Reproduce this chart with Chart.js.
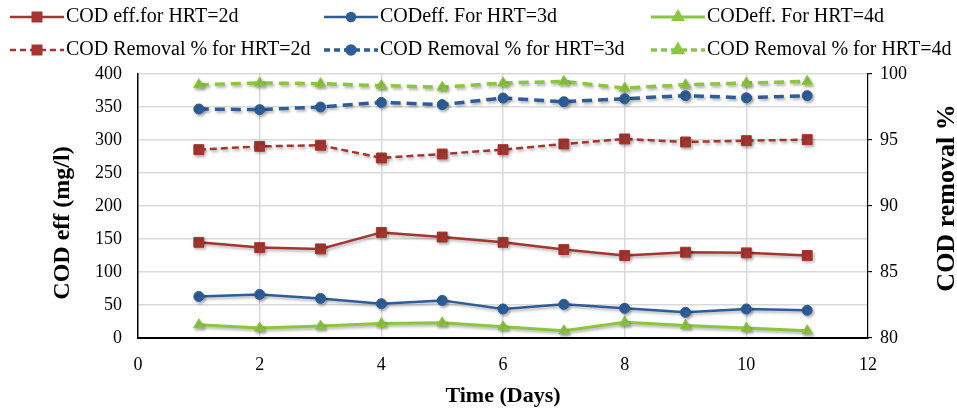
<!DOCTYPE html>
<html>
<head>
<meta charset="utf-8">
<script src="https://cdn.jsdelivr.net/npm/chart.js@4.4.1/dist/chart.umd.min.js"></script>
<style>
  body { margin: 0; background: #fff; }
</style>
</head>
<body>
<canvas id="myChart" width="957" height="412"></canvas>
<script>
// time axis (days)
var days = [1, 2, 3, 4, 5, 6, 7, 8, 9, 10, 11];

// COD effluent, mg/l (left axis)
var effHRT2 = [145, 137, 135, 160, 153, 145, 134, 125, 130, 129, 125];
var effHRT3 = [63, 66, 60, 52, 57, 44, 51, 45, 39, 44, 42];
var effHRT4 = [20, 15, 18, 22, 23, 17, 11, 24, 19, 15, 11];

// COD removal, % (right axis)
var remHRT2 = [94.27, 94.52, 94.6, 93.64, 93.94, 94.27, 94.7, 95.08, 94.85, 94.95, 95.03];
var remHRT3 = [97.35, 97.3, 97.5, 97.85, 97.68, 98.18, 97.9, 98.13, 98.36, 98.2, 98.36];
var remHRT4 = [99.19, 99.32, 99.27, 99.12, 99.0, 99.32, 99.44, 98.94, 99.19, 99.32, 99.44];

var seriesNames = [
    'COD eff.for HRT=2d', 'CODeff. For HRT=3d', 'CODeff. For HRT=4d',
    'COD Removal % for HRT=2d', 'COD Removal % for HRT=3d', 'COD Removal % for HRT=4d'
];

var RED = '#a5352f', BLUE = '#2e5d99', GREEN = '#8cc63f';
var SERIF = '"Liberation Serif", "Times New Roman", serif';

function pts(arr) {
    return days.map(function (d, i) { return {x: d, y: arr[i]}; });
}

function series(i, arr, color, style, radius, axis, dash, width) {
    return {
        label: seriesNames[i],
        data: pts(arr),
        yAxisID: axis,
        borderColor: color,
        backgroundColor: color,
        borderWidth: width,
        borderDash: dash,
        pointStyle: style,
        pointRadius: radius,
        pointBorderWidth: 1,
        pointBackgroundColor: color,
        pointBorderColor: color,
        tension: 0,
        fill: false
    };
}

var datasets = [
    series(0, effHRT2, RED, 'rect', 7, 'y', [], 2.5),
    series(1, effHRT3, BLUE, 'circle', 5, 'y', [], 2.5),
    series(2, effHRT4, GREEN, 'triangle', 6, 'y', [], 3),
    series(3, remHRT2, RED, 'rect', 7, 'y1', [7, 4], 2.5),
    series(4, remHRT3, BLUE, 'circle', 5, 'y1', [10, 6], 3.5),
    series(5, remHRT4, GREEN, 'triangle', 6, 'y1', [10, 6], 3.5)
];

// soft shadow like the spreadsheet original
var shadowPlugin = {
    id: 'shadow',
    beforeDatasetsDraw: function (chart) {
        var c = chart.ctx;
        c.save();
        c.shadowColor = 'rgba(0,0,0,0.3)';
        c.shadowBlur = 3;
        c.shadowOffsetX = 1.5;
        c.shadowOffsetY = 2;
    },
    afterDatasetsDraw: function (chart) {
        chart.ctx.restore();
    }
};

function vTitle(c, text, x, y, size) {
    c.save();
    c.translate(x, y);
    c.rotate(-Math.PI / 2);
    c.font = 'bold ' + size + 'px ' + SERIF;
    c.fillStyle = '#000';
    c.textAlign = 'center';
    c.textBaseline = 'middle';
    c.fillText(text, 0, 0);
    c.restore();
}

// two-row legend in fixed columns + vertical axis titles (read bottom to top)
var legendCols = [10, 324, 651];
var legendRows = [17, 50];
var extrasPlugin = {
    id: 'extras',
    afterDraw: function (chart) {
        var c = chart.ctx;
        c.save();
        chart.data.datasets.forEach(function (ds, i) {
            var x0 = legendCols[i % 3], y = legendRows[Math.floor(i / 3)];
            var len = 54;
            c.strokeStyle = ds.borderColor;
            c.lineWidth = ds.borderWidth;
            c.setLineDash(ds.borderDash.length ? [6, 4] : []);
            c.beginPath();
            c.moveTo(x0, y);
            c.lineTo(x0 + len, y);
            c.stroke();
            c.setLineDash([]);
            c.fillStyle = ds.borderColor;
            Chart.helpers.drawPoint(c, {
                pointStyle: ds.pointStyle,
                radius: ds.pointRadius - 1,
                rotation: 0,
                borderWidth: 1
            }, x0 + len / 2, y);
            c.fillStyle = '#000';
            c.font = '20px ' + SERIF;
            c.textBaseline = 'middle';
            c.textAlign = 'left';
            c.fillText(ds.label, x0 + len + 2, y);
        });
        c.restore();
        vTitle(c, 'COD eff (mg/l)', 63, 223, 24);
        vTitle(c, 'COD removal %', 947, 198, 26);
    }
};

new Chart('myChart', {
    type: 'line',
    data: { datasets: datasets },
    plugins: [shadowPlugin, extrasPlugin],
    options: {
        responsive: false,
        animation: false,
        layout: { padding: { top: 74, left: 0, right: 0, bottom: 0 } },
        plugins: {
            legend: { display: false },
            tooltip: { enabled: false }
        },
        scales: {
            x: {
                type: 'linear',
                min: 0,
                max: 12,
                ticks: {
                    stepSize: 2,
                    color: '#000',
                    padding: 16,
                    font: { family: SERIF, size: 18 }
                },
                grid: {
                    drawTicks: false,
                    color: function (ctx) {
                        var v = ctx.tick && ctx.tick.value;
                        return (v === 0 || v === 12) ? 'rgba(0,0,0,0)' : '#d9d9d9';
                    },
                    lineWidth: 1.5
                },
                border: { color: '#000', width: 2 },
                title: {
                    display: true,
                    text: 'Time (Days)',
                    color: '#000',
                    font: { family: SERIF, size: 22, weight: 'bold' },
                    padding: { top: 0, bottom: 2 }
                },
                afterFit: function (s) { s.height = 74; }
            },
            y: {
                position: 'left',
                min: 0,
                max: 400,
                ticks: {
                    stepSize: 50,
                    color: '#000',
                    padding: 16,
                    font: { family: SERIF, size: 18 }
                },
                grid: { drawTicks: false, color: '#d9d9d9', lineWidth: 1.5 },
                border: { color: '#000', width: 1.5 },
                afterFit: function (s) { s.width = 138; }
            },
            y1: {
                position: 'right',
                min: 80,
                max: 100,
                ticks: {
                    stepSize: 5,
                    color: '#000',
                    padding: 8,
                    font: { family: SERIF, size: 18 }
                },
                grid: { drawOnChartArea: false, tickLength: 4, color: '#000', lineWidth: 1.2 },
                border: { color: '#000', width: 1.2, dash: [4, 3] },
                afterFit: function (s) { s.width = 89; }
            }
        }
    }
});
</script>
</body>
</html>
